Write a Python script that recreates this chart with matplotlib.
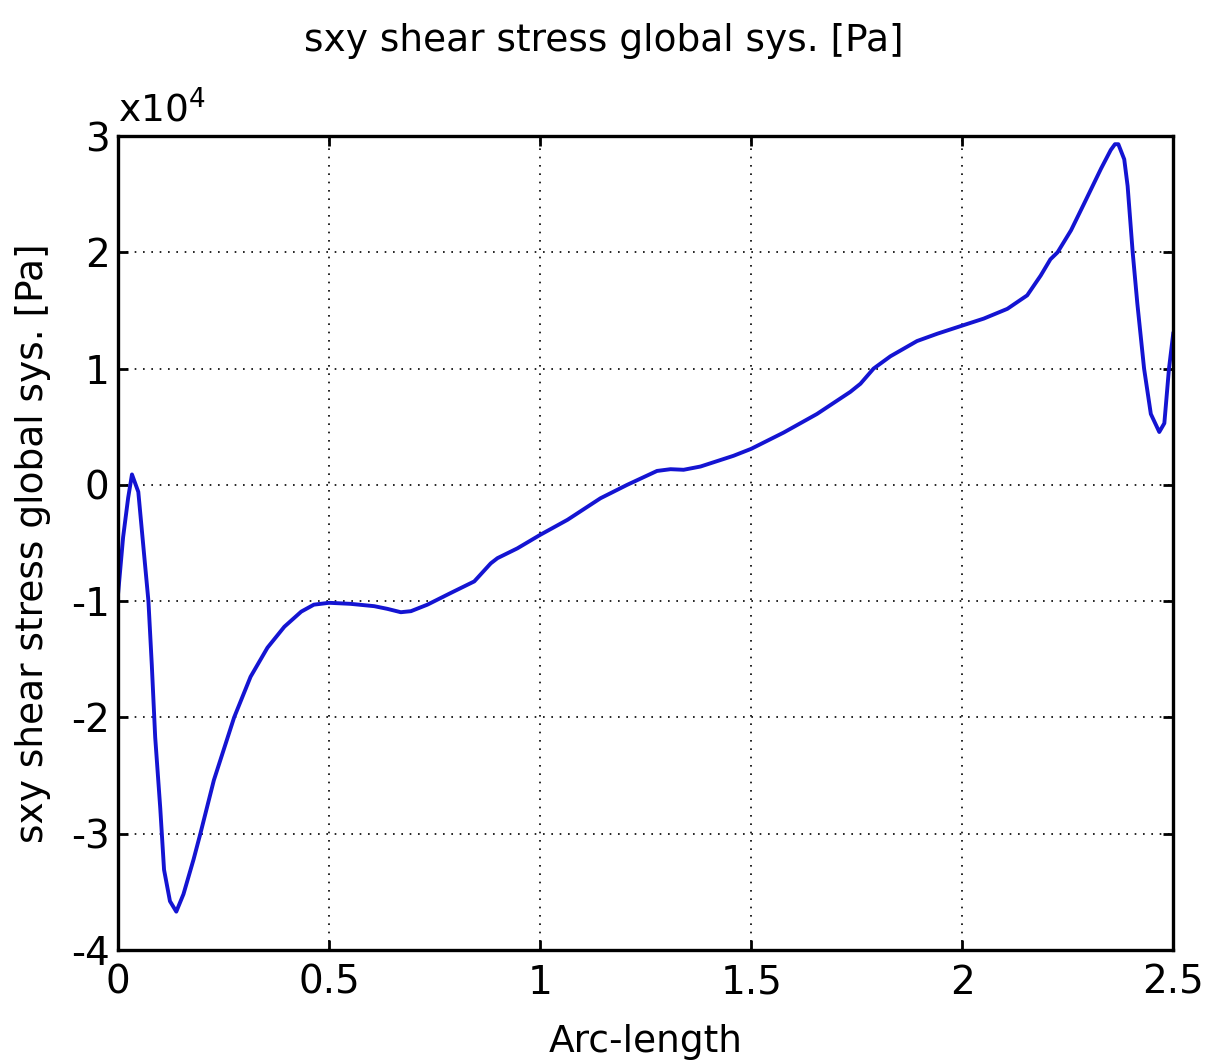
import matplotlib

matplotlib.use("Agg")

import matplotlib.pyplot as plt
from matplotlib.ticker import MultipleLocator

# values, y in units of 1e4 Pa
arc = [0.0, 0.012, 0.024, 0.033, 0.048, 0.061, 0.072, 0.080, 0.088, 0.100,
       0.109, 0.123, 0.138, 0.155, 0.179, 0.195, 0.227, 0.275, 0.314, 0.354,
       0.394, 0.434, 0.464, 0.500, 0.551, 0.607, 0.638, 0.670, 0.694, 0.733,
       0.788, 0.844, 0.883, 0.899, 0.946, 1.000, 1.065, 1.143, 1.206, 1.277,
       1.309, 1.340, 1.380, 1.458, 1.500, 1.577, 1.656, 1.735, 1.759, 1.790,
       1.830, 1.893, 1.941, 2.000, 2.051, 2.107, 2.154, 2.186, 2.209, 2.226,
       2.258, 2.289, 2.329, 2.352, 2.362, 2.370, 2.384, 2.392, 2.404, 2.415,
       2.431, 2.447, 2.467, 2.479, 2.490, 2.500]
sxy = [-0.94, -0.45, -0.11, 0.09, -0.06, -0.57, -1.00, -1.55, -2.17, -2.78,
       -3.31, -3.58, -3.67, -3.52, -3.22, -3.00, -2.54, -2.00, -1.65, -1.40,
       -1.22, -1.09, -1.03, -1.014, -1.023, -1.043, -1.066, -1.095, -1.086, -1.03,
       -0.93, -0.83, -0.675, -0.63, -0.546, -0.43, -0.30, -0.115, 0.0, 0.12,
       0.135, 0.13, 0.158, 0.25, 0.31, 0.45, 0.61, 0.80, 0.87, 1.00,
       1.106, 1.237, 1.30, 1.37, 1.43, 1.514, 1.63, 1.80, 1.94, 2.00,
       2.19, 2.42, 2.72, 2.88, 2.93, 2.93, 2.80, 2.57, 2.00, 1.56,
       1.00, 0.61, 0.455, 0.53, 1.00, 1.30]

title = "sxy shear stress global sys. [Pa]"

plt.rcParams["font.family"] = ["DejaVu Sans"]

fig = plt.figure(figsize=(12.07, 10.63), dpi=100)
ax = fig.add_axes([0.0978, 0.1063, 0.8742, 0.7657])

ax.plot(arc, sxy, color="#1414d2", lw=2.8, solid_joinstyle="round")

ax.set_xlim(0, 2.5)
ax.set_ylim(-4, 3)
ax.xaxis.set_major_locator(MultipleLocator(0.5))
ax.yaxis.set_major_locator(MultipleLocator(1))
fmt = plt.FuncFormatter(lambda v, p: f"{v:g}")
ax.xaxis.set_major_formatter(fmt)
ax.yaxis.set_major_formatter(fmt)

ax.grid(True, color="black", linestyle=(0, (1, 4)), linewidth=1.2)
ax.tick_params(direction="in", length=7, width=2, labelsize=28,
               top=True, right=True)
ax.tick_params(axis="x", pad=10)
ax.tick_params(axis="y", pad=6)
for s in ax.spines.values():
    s.set_linewidth(2.4)

ax.text(0.0, 1.008, r"x10$^{4}$", transform=ax.transAxes, fontsize=27,
        ha="left", va="bottom")

ax.set_xlabel("Arc-length", fontsize=27, labelpad=16)
ax.set_ylabel(title, fontsize=27, labelpad=14)
fig.suptitle(title, fontsize=27, y=0.978)

fig.savefig("out.png", dpi=100)
